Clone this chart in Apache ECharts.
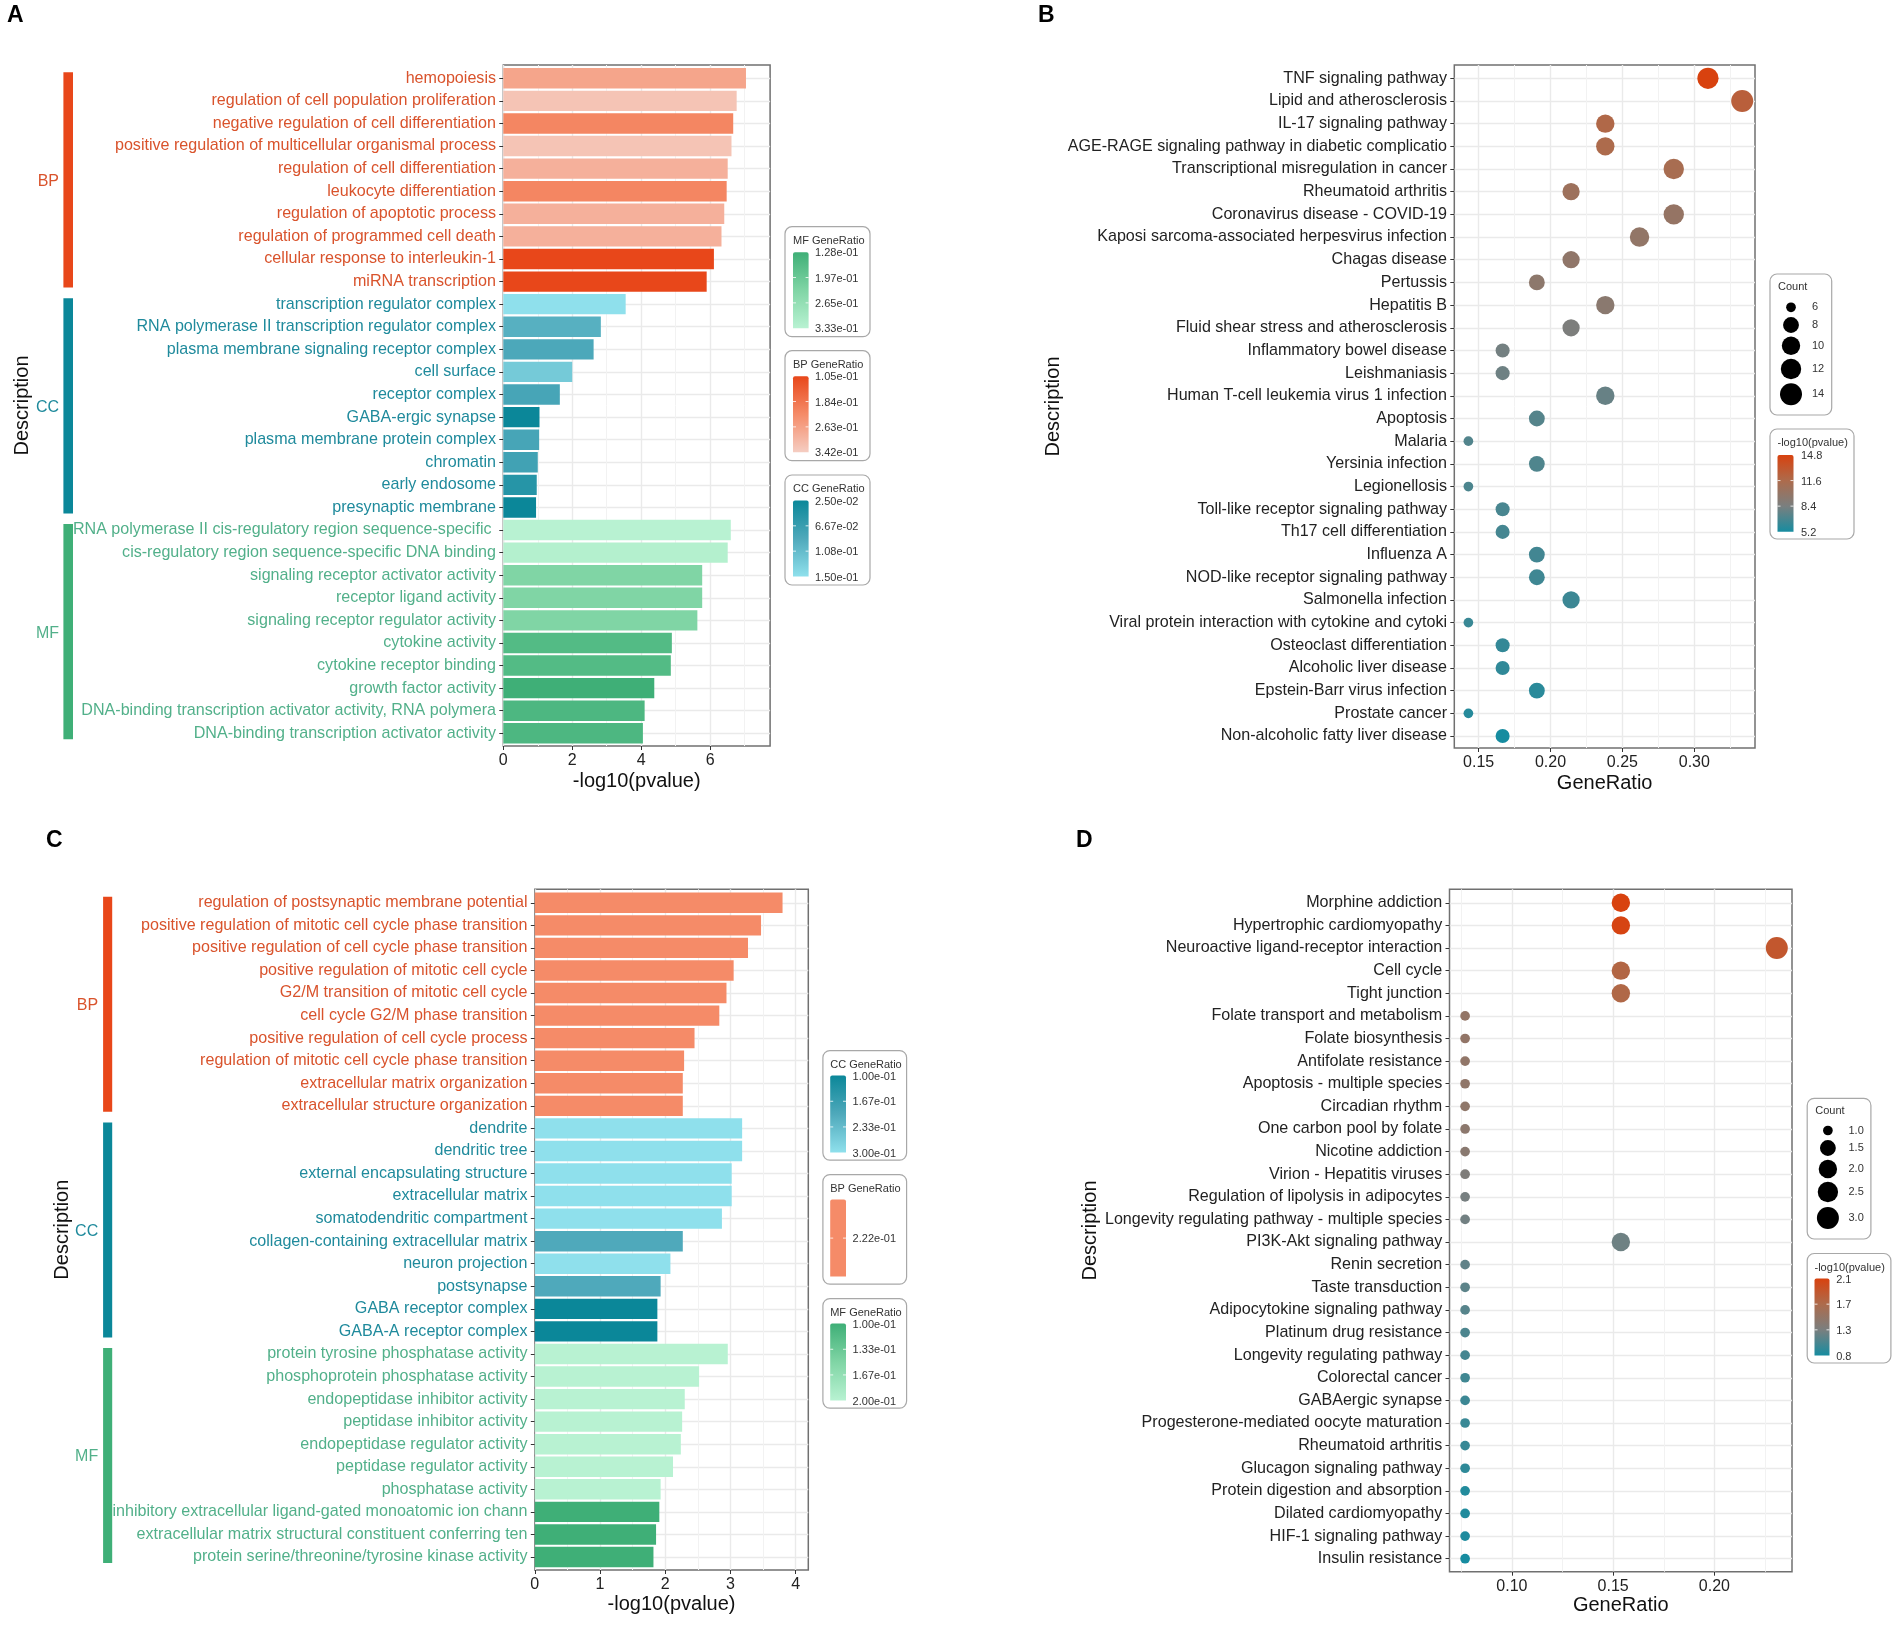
<!DOCTYPE html>
<html><head><meta charset="utf-8">
<style>html,body{margin:0;padding:0;background:#fff}#c{width:1902px;height:1625px}</style>
<script src="https://cdn.jsdelivr.net/npm/echarts@6/dist/echarts.min.js"></script>
</head><body><div id="c"></div>
<script>
const aLabels=["hemopoiesis","regulation of cell population proliferation","negative regulation of cell differentiation","positive regulation of multicellular organismal process","regulation of cell differentiation","leukocyte differentiation","regulation of apoptotic process","regulation of programmed cell death","cellular response to interleukin-1","miRNA transcription","transcription regulator complex","RNA polymerase II transcription regulator complex","plasma membrane signaling receptor complex","cell surface","receptor complex","GABA-ergic synapse","plasma membrane protein complex","chromatin","early endosome","presynaptic membrane","RNA polymerase II cis-regulatory region sequence-specific ","cis-regulatory region sequence-specific DNA binding","signaling receptor activator activity","receptor ligand activity","signaling receptor regulator activity","cytokine activity","cytokine receptor binding","growth factor activity","DNA-binding transcription activator activity, RNA polymera","DNA-binding transcription activator activity"];
const aValues=[7.04,6.77,6.67,6.62,6.51,6.48,6.41,6.33,6.11,5.90,3.55,2.83,2.62,2.0,1.64,1.05,1.04,1.0,0.97,0.95,6.6,6.51,5.77,5.77,5.63,4.89,4.86,4.38,4.10,4.05];
const aRatios=[0.27,0.325,0.215,0.325,0.29,0.215,0.29,0.29,0.105,0.105,0.15,0.095,0.085,0.125,0.08,0.025,0.08,0.075,0.05,0.025,0.333,0.325,0.23,0.23,0.23,0.16,0.16,0.128,0.15,0.15];

const cLabels=["regulation of postsynaptic membrane potential","positive regulation of mitotic cell cycle phase transition","positive regulation of cell cycle phase transition","positive regulation of mitotic cell cycle","G2/M transition of mitotic cell cycle","cell cycle G2/M phase transition","positive regulation of cell cycle process","regulation of mitotic cell cycle phase transition","extracellular matrix organization","extracellular structure organization","dendrite","dendritic tree","external encapsulating structure","extracellular matrix","somatodendritic compartment","collagen-containing extracellular matrix","neuron projection","postsynapse","GABA receptor complex","GABA-A receptor complex","protein tyrosine phosphatase activity","phosphoprotein phosphatase activity","endopeptidase inhibitor activity","peptidase inhibitor activity","endopeptidase regulator activity","peptidase regulator activity","phosphatase activity","inhibitory extracellular ligand-gated monoatomic ion chann","extracellular matrix structural constituent conferring ten","protein serine/threonine/tyrosine kinase activity"];
const cValues=[3.80,3.47,3.27,3.05,2.94,2.83,2.45,2.29,2.27,2.27,3.18,3.18,3.02,3.02,2.87,2.27,2.08,1.93,1.88,1.88,2.96,2.52,2.30,2.26,2.24,2.12,1.93,1.91,1.86,1.82];
const cRatios=[0.222,0.222,0.222,0.222,0.222,0.222,0.222,0.222,0.222,0.222,0.3,0.3,0.3,0.3,0.3,0.2,0.3,0.2,0.1,0.1,0.2,0.2,0.2,0.2,0.2,0.2,0.2,0.1,0.1,0.1];

const bLabels=["TNF signaling pathway","Lipid and atherosclerosis","IL-17 signaling pathway","AGE-RAGE signaling pathway in diabetic complicatio","Transcriptional misregulation in cancer","Rheumatoid arthritis","Coronavirus disease - COVID-19","Kaposi sarcoma-associated herpesvirus infection","Chagas disease","Pertussis","Hepatitis B","Fluid shear stress and atherosclerosis","Inflammatory bowel disease","Leishmaniasis","Human T-cell leukemia virus 1 infection","Apoptosis","Malaria","Yersinia infection","Legionellosis","Toll-like receptor signaling pathway","Th17 cell differentiation","Influenza A","NOD-like receptor signaling pathway","Salmonella infection","Viral protein interaction with cytokine and cytoki","Osteoclast differentiation","Alcoholic liver disease","Epstein-Barr virus infection","Prostate cancer","Non-alcoholic fatty liver disease"];
const bRatio=[0.3095,0.3333,0.2381,0.2381,0.2857,0.2143,0.2857,0.2619,0.2143,0.1905,0.2381,0.2143,0.1667,0.1667,0.2381,0.1905,0.1429,0.1905,0.1429,0.1667,0.1667,0.1905,0.1905,0.2143,0.1429,0.1667,0.1667,0.1905,0.1429,0.1667];
const bCount=[13,14,10,10,12,9,12,11,9,8,10,9,7,7,10,8,6,8,6,7,7,8,8,9,6,7,7,8,6,7];
const bLog=[14.8,12.5,11.8,11.6,11.3,10.6,10.1,9.9,9.8,9.6,9.4,8.6,8.2,8.0,7.8,7.2,7.1,7.0,6.9,6.8,6.7,6.6,6.5,6.4,6.3,6.1,6.0,5.8,5.7,5.2];

const dLabels=["Morphine addiction","Hypertrophic cardiomyopathy","Neuroactive ligand-receptor interaction","Cell cycle","Tight junction","Folate transport and metabolism","Folate biosynthesis","Antifolate resistance","Apoptosis - multiple species","Circadian rhythm","One carbon pool by folate","Nicotine addiction","Virion - Hepatitis viruses","Regulation of lipolysis in adipocytes","Longevity regulating pathway - multiple species","PI3K-Akt signaling pathway","Renin secretion","Taste transduction","Adipocytokine signaling pathway","Platinum drug resistance","Longevity regulating pathway","Colorectal cancer","GABAergic synapse","Progesterone-mediated oocyte maturation","Rheumatoid arthritis","Glucagon signaling pathway","Protein digestion and absorption","Dilated cardiomyopathy","HIF-1 signaling pathway","Insulin resistance"];
const dRatio=[0.1538,0.1538,0.2308,0.1538,0.1538,0.0769,0.0769,0.0769,0.0769,0.0769,0.0769,0.0769,0.0769,0.0769,0.0769,0.1538,0.0769,0.0769,0.0769,0.0769,0.0769,0.0769,0.0769,0.0769,0.0769,0.0769,0.0769,0.0769,0.0769,0.0769];
const dCount=[2,2,3,2,2,1,1,1,1,1,1,1,1,1,1,2,1,1,1,1,1,1,1,1,1,1,1,1,1,1];
const dLog=[2.1,2.08,1.88,1.72,1.7,1.45,1.44,1.43,1.42,1.41,1.39,1.36,1.28,1.22,1.2,1.18,1.12,1.1,1.08,1.03,1.0,0.98,0.96,0.95,0.94,0.9,0.85,0.84,0.83,0.8];

const groupNames=["BP","CC","MF"];
const aGroupRows=[[0,9],[10,19],[20,29]];
const aTicksMajor=[0,2,4,6], aTicksMinor=[1,3,5,7];
const cTicksMajor=[0,1,2,3,4], cTicksMinor=[0.5,1.5,2.5,3.5];
const bTicksMajor=[0.15,0.20,0.25,0.30], bTicksMinor=[0.175,0.225,0.275,0.325];
const dTicksMajor=[0.10,0.15,0.20], dTicksMinor=[0.075,0.125,0.175,0.225];
const aRangesMF=["1.28e-01","1.97e-01","2.65e-01","3.33e-01"], aRangesBP=["1.05e-01","1.84e-01","2.63e-01","3.42e-01"], aRangesCC=["2.50e-02","6.67e-02","1.08e-01","1.50e-01"];
const cRangesCC=["1.00e-01","1.67e-01","2.33e-01","3.00e-01"], cRangesBP=["2.22e-01"], cRangesMF=["1.00e-01","1.33e-01","1.67e-01","2.00e-01"];
const bCountKeys=[6,8,10,12,14], dCountKeys=[1.0,1.5,2.0,2.5,3.0];
const bLogTicks=["14.8","11.6","8.4","5.2"], dLogTicks=["2.1","1.7","1.3","0.8"];

const FONT='"Liberation Sans",Arial,sans-serif';
const STOPS={BP:['#E8471A','#F58B68','#F5CDC2'],CC:['#0B8799','#4FA9BB','#8FE0EC'],MF:['#3FAF77','#80D5A5','#B8F2D2'],P:['#D8420F','#AD6B4C','#7A7F7F','#178CA0']};
const TEXTCOL={BP:'#D9532C',CC:'#1F8A9C',MF:'#52B08A'};
function hex(c){return [1,3,5].map(i=>parseInt(c.slice(i,i+2),16));}
function mix(stops,t){t=Math.max(0,Math.min(1,t));const s=t*(stops.length-1),i=Math.min(Math.floor(s),stops.length-2),f=s-i,a=hex(stops[i]),b=hex(stops[i+1]);
  return 'rgb('+a.map((v,k)=>Math.round(v+(b[k]-v)*f)).join(',')+')';}
function gradient(stops){return new echarts.graphic.LinearGradient(0,0,0,1,stops.map((c,i)=>({offset:i/(stops.length-1),color:c})));}

const opt={animation:false,backgroundColor:'#fff',grid:[],xAxis:[],yAxis:[],series:[],graphic:[]};
const MAJ='#EAEAEA',MIN='#F2F2F2',FRAME='#707070';

function addPanel(p){
  const [l,t,r,b]=p.frame, g=opt.grid.length, xi=opt.xAxis.length, yi=opt.yAxis.length;
  opt.grid.push({left:l,top:t,width:r-l,height:b-t,show:true,backgroundColor:'#fff',borderColor:FRAME,borderWidth:1.5,outerBoundsMode:'none',containLabel:false});
  opt.grid.push({left:l,top:p.rows[0],width:r-l,height:p.rows[1]-p.rows[0],outerBoundsMode:'none',containLabel:false});
  opt.xAxis.push({gridIndex:g,type:'value',min:p.xMin,max:p.xMax,axisLine:{show:false},axisLabel:{show:false},axisTick:{show:false,customValues:p.minor},splitLine:{show:true,lineStyle:{color:MIN,width:1}}});
  opt.xAxis.push({gridIndex:g,type:'value',min:p.xMin,max:p.xMax,position:'bottom',axisLine:{show:false},
    axisTick:{show:true,length:4,lineStyle:{color:'#333',width:1},customValues:p.major},
    axisLabel:{show:true,customValues:p.major,margin:7,color:'#222',fontFamily:FONT,fontSize:16,showMinLabel:true,showMaxLabel:true,formatter:v=>p.dec?Number(v).toFixed(p.dec):String(v)},
    splitLine:{show:true,lineStyle:{color:MAJ,width:1.4}},
    name:p.xName,nameLocation:'middle',nameGap:p.xGap,nameTextStyle:{color:'#111',fontFamily:FONT,fontSize:20}});
  opt.yAxis.push({gridIndex:g,type:'value',min:0,max:1,axisLine:{show:false},axisTick:{show:false},axisLabel:{show:false},splitLine:{show:false},
    name:'Description',nameLocation:'middle',nameGap:p.yGap,nameRotate:90,nameTextStyle:{color:'#111',fontFamily:FONT,fontSize:20}});
  opt.xAxis.push({gridIndex:g+1,type:'value',min:p.xMin,max:p.xMax,show:false});
  opt.yAxis.push({gridIndex:g+1,type:'category',inverse:true,boundaryGap:false,data:p.labels,axisLine:{show:false},
    axisTick:{show:true,length:4,interval:0,lineStyle:{color:'#333',width:1}},
    axisLabel:{interval:0,margin:7.3,padding:[6,0,0,0],fontFamily:FONT,fontSize:16.1,color:p.labelColor},
    splitLine:{show:true,interval:0,lineStyle:{color:MAJ,width:1.4}}});
  p.add(xi+2,yi+1);
  if(p.strip){
    opt.series.push({type:'custom',xAxisIndex:xi+2,yAxisIndex:yi+1,clip:false,silent:true,z:3,encode:{x:0,y:1},
      data:aGroupRows.map(a=>[p.xMin,a[0],a[1]]),
      renderItem:(params,api)=>{
        const k=params.dataIndex,top=api.coord([p.xMin,api.value(1)])[1],bot=api.coord([p.xMin,api.value(2)])[1],n=groupNames[k];
        return {type:'group',children:[
          {type:'rect',shape:{x:l+p.strip[0],y:top-6,width:p.strip[1]-p.strip[0],height:bot-top+12},style:{fill:STOPS[n][0]}},
          {type:'text',style:{text:n,x:l+p.strip[2],y:(top+bot)/2+1.5,textAlign:'right',textVerticalAlign:'middle',align:'right',verticalAlign:'middle',fill:TEXTCOL[n],fontFamily:FONT,fontSize:16}}
        ]};
      }});
  }
}
function barAdd(values,ratios,ranges,fixed){return (xi,yi)=>{
  opt.series.push({type:'bar',xAxisIndex:xi,yAxisIndex:yi,data:values,barWidth:20.4,clip:false,z:2,
    itemStyle:{color:q=>{const i=q.dataIndex,n=groupNames[Math.floor(i/10)];
      if(fixed&&fixed[n]) return fixed[n];
      return mix(STOPS[n],(ratios[i]-ranges[n][0])/(ranges[n][1]-ranges[n][0]));}}});
};}
const dia=(c,lo,hi)=>9.7+12.3*Math.sqrt((c-lo)/(hi-lo));
function dotAdd(ratio,count,log,cmin,cmax,pmin,pmax){return (xi,yi)=>{
  opt.series.push({type:'scatter',xAxisIndex:xi,yAxisIndex:yi,clip:false,z:2,
    data:ratio.map((v,i)=>[v,i,count[i],log[i]]),encode:{x:0,y:1},
    symbolSize:d=>dia(d[2],cmin,cmax),
    itemStyle:{opacity:1,color:q=>mix(STOPS.P,(pmax-q.data[3])/(pmax-pmin))}});
};}
const groupColor=(v,i)=>TEXTCOL[groupNames[Math.floor(i/10)]];

addPanel({frame:[503.3,65,770.1,746],rows:[78.3,733.3],labels:aLabels,xMin:0,xMax:7.74,major:aTicksMajor,minor:aTicksMinor,xName:'-log10(pvalue)',xGap:25,yGap:471,labelColor:groupColor,strip:[-439.9,-430.3,-444.3],
  add:barAdd(aValues,aRatios,{BP:[0.105,0.342],CC:[0.025,0.15],MF:[0.128,0.333]})});
addPanel({frame:[1454.3,65,1755,748],rows:[78.3,736],labels:bLabels,xMin:0.1331,xMax:0.3422,major:bTicksMajor,minor:bTicksMinor,dec:2,xName:'GeneRatio',xGap:25,yGap:391,labelColor:'#222',
  add:dotAdd(bRatio,bCount,bLog,6,14,5.2,14.8)});
addPanel({frame:[534.8,889.3,808.3,1570],rows:[902.8,1557],labels:cLabels,xMin:0,xMax:4.195,major:cTicksMajor,minor:cTicksMinor,xName:'-log10(pvalue)',xGap:24,yGap:462.7,labelColor:groupColor,strip:[-431.7,-422.6,-436.6],
  add:barAdd(cValues,cRatios,{CC:[0.1,0.3],MF:[0.1,0.2]},{BP:'#F58B68'})});
addPanel({frame:[1449.5,889.3,1792,1571.7],rows:[902.8,1558.7],labels:dLabels,xMin:0.0692,xMax:0.2383,major:dTicksMajor,minor:dTicksMinor,dec:2,xName:'GeneRatio',xGap:24,yGap:348.7,labelColor:'#222',
  add:dotAdd(dRatio,dCount,dLog,1,3,0.8,2.1)});

const gfx=opt.graphic;
function txt(s,x,y,size,fill,align,weight){gfx.push({type:'text',silent:true,z:10,style:{text:s,x:x,y:y,textAlign:align||'left',textVerticalAlign:'middle',align:align||'left',verticalAlign:'middle',fill:fill||'#333',fontFamily:FONT,fontSize:size,fontWeight:weight||'normal'}});}
function box(x,y,w,h){gfx.push({type:'rect',silent:true,z:9,shape:{x:x,y:y,width:w,height:h,r:7},style:{fill:'#fff',stroke:'#A8A8A8',lineWidth:1.2}});}
function tick(x,y,w){
  [[x,x+3],[x+w-3,x+w]].forEach(a=>gfx.push({type:'line',silent:true,z:11,shape:{x1:a[0],y1:y,x2:a[1],y2:y},style:{stroke:'rgba(255,255,255,.8)',lineWidth:1}}));
}
function colorBar(x,y,w,h,title,labels,stops,bx,by,bw,bh,lx){
  box(x,y,w,h);
  txt(title,x+bx,y+14,11,'#333');
  gfx.push({type:'rect',silent:true,z:10,shape:{x:x+bx,y:y+by,width:bw,height:bh,r:[2,2,0,0]},style:{fill:stops.length>1?gradient(stops):stops[0]}});
  if(labels.length===1){txt(labels[0],x+lx,y+by+bh/2+1,11,'#333');tick(x+bx,y+by+bh/2,bw);return;}
  labels.forEach((s,i)=>{const f=i/(labels.length-1),yy=y+by+bh*f;txt(s,x+lx,yy+1,11,'#333');if(i>0&&i<labels.length-1)tick(x+bx,yy,bw);});
}
function countLegend(x,y,w,h,keys,lo,hi,cx,ys,lx){
  box(x,y,w,h);txt('Count',x+8,y+13,11,'#333');
  keys.forEach((k,i)=>{gfx.push({type:'circle',silent:true,z:10,shape:{cx:cx,cy:ys[i],r:dia(k,lo,hi)/2},style:{fill:'#000'}});
    txt(hi>3?String(k):k.toFixed(1),lx,ys[i],11,'#333');});
}
colorBar(785,226.7,85,110,'MF GeneRatio',aRangesMF,STOPS.MF,8,25.5,15.6,76,30);
colorBar(785,350.7,85,110,'BP GeneRatio',aRangesBP,STOPS.BP,8,25.5,15.6,76,30);
colorBar(785,475,85,110,'CC GeneRatio',aRangesCC,STOPS.CC,8,25.5,15.6,76,30);
colorBar(822.9,1050.6,83.7,109.5,'CC GeneRatio',cRangesCC,STOPS.CC,7.3,25,15.8,77,29.7);
colorBar(822.9,1174.6,83.7,109.5,'BP GeneRatio',cRangesBP,['#F58B68'],7.3,25,15.8,77,29.7);
colorBar(822.9,1298.6,83.7,109.5,'MF GeneRatio',cRangesMF,STOPS.MF,7.3,25,15.8,77,29.7);
countLegend(1770,274,61.7,141,bCountKeys,6,14,1791,[307.3,325,345.7,369,394.3],1812);
colorBar(1770,429,84,110,'-log10(pvalue)',bLogTicks,STOPS.P,7.5,26,16,76.7,31);
countLegend(1807.2,1098.4,63.7,140.6,dCountKeys,1,3,1827.9,[1130.5,1148,1169,1192,1218],1848.5);
colorBar(1807.2,1253.5,83.7,109.5,'-log10(pvalue)',dLogTicks,STOPS.P,7.3,25,15,77,29);
[['A',7,16],['B',1038,16],['C',46,840.5],['D',1076,840.5]].forEach(a=>txt(a[0],a[1],a[2],23,'#000','left','bold'));

const chart=echarts.init(document.getElementById('c'),null,{renderer:'canvas',width:1902,height:1625});
chart.setOption(opt);
</script></body></html>
